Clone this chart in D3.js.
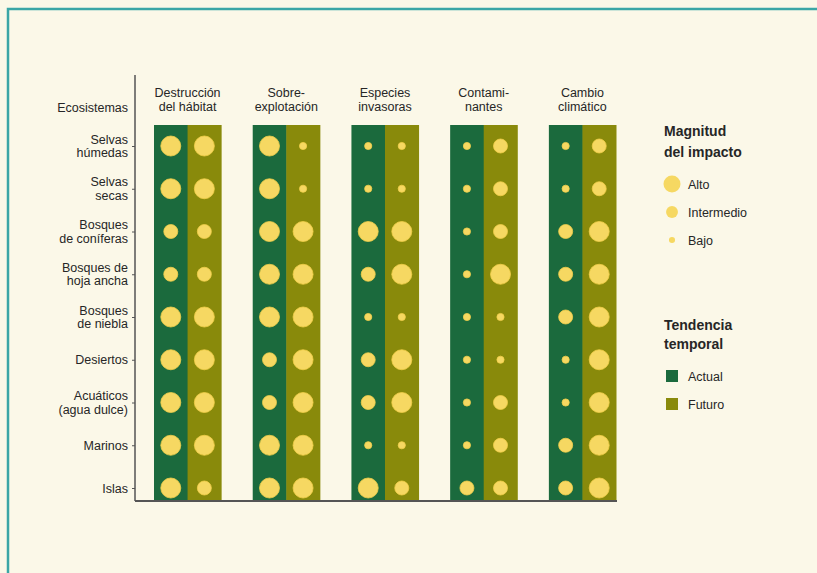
<!DOCTYPE html>
<html><head><meta charset="utf-8">
<script src="https://cdn.jsdelivr.net/npm/d3@7/dist/d3.min.js"></script>
<style>
html,body{margin:0;padding:0;background:#fbf8e8;}
svg{display:block;}
text{font-family:"Liberation Sans",Arial,sans-serif;fill:#262626;}
</style></head>
<body>
<script>
const ecosystems = ["Selvas húmedas","Selvas secas","Bosques de coníferas","Bosques de hoja ancha","Bosques de niebla","Desiertos","Acuáticos (agua dulce)","Marinos","Islas"];
const ecosystemLabels = [["Selvas","húmedas"],["Selvas","secas"],["Bosques","de coníferas"],["Bosques de","hoja ancha"],["Bosques","de niebla"],["Desiertos"],["Acuáticos","(agua dulce)"],["Marinos"],["Islas"]];
const impacts = ["Destrucción del hábitat","Sobre-explotación","Especies invasoras","Contaminantes","Cambio climático"];
const impactLabels = [["Destrucción","del hábitat"],["Sobre-","explotación"],["Especies","invasoras"],["Contami-","nantes"],["Cambio","climático"]];
const trends = ["Actual","Futuro"];
const levels = ["Bajo","Intermedio","Alto"];
const legendLevels = ["Alto","Intermedio","Bajo"];
// values: 3 = Alto, 2 = Intermedio, 1 = Bajo ; rows = ecosystems
const destruccionActual = [3,3,2,2,3,3,3,3,3];
const destruccionFuturo = [3,3,2,2,3,3,3,3,2];
const sobreActual       = [3,3,3,3,3,2,2,3,3];
const sobreFuturo       = [1,1,3,3,3,3,3,3,3];
const especiesActual    = [1,1,3,2,1,2,2,1,3];
const especiesFuturo    = [1,1,3,3,1,3,3,1,2];
const contamActual      = [1,1,1,1,1,1,1,1,2];
const contamFuturo      = [2,2,2,3,1,1,2,2,2];
const cambioActual      = [1,1,2,2,2,1,1,2,2];
const cambioFuturo      = [2,2,3,3,3,3,3,3,3];

const series = [
  [destruccionActual, destruccionFuturo],
  [sobreActual, sobreFuturo],
  [especiesActual, especiesFuturo],
  [contamActual, contamFuturo],
  [cambioActual, cambioFuturo]
];

const W = 817, H = 573;
const svg = d3.select("body").append("svg").attr("width", W).attr("height", H);

svg.append("rect").attr("x",0).attr("y",0).attr("width",W).attr("height",H).attr("fill","#fbf8e8");
// frame
svg.append("path").attr("d",`M8,${H} L8,9 L${W},9`).attr("fill","none").attr("stroke","#3ba6a6").attr("stroke-width",2.5);

const x = d3.scaleBand().domain(impacts).range([154, 616]).paddingInner(0.32).paddingOuter(0);
const xi = d3.scaleBand().domain(trends).range([0, x.bandwidth()]);
const y = d3.scalePoint().domain(ecosystems).range([146, 488]);
const r = d3.scaleOrdinal().domain(levels).range([3.6, 7, 10]);
const color = d3.scaleOrdinal().domain(trends).range(["#1b6a3d","#898a0b"]);
const dotColor = "#f6d862";

const barTop = 125, barBottom = 500, axisX = 135;
const fs = 12.5, lh = 13.5;

// bars
impacts.forEach((imp, i) => {
  const g = svg.append("g").attr("transform", `translate(${x(imp)},0)`);
  trends.forEach((t, j) => {
    g.append("rect").attr("x", xi(t)).attr("y", barTop).attr("width", xi.bandwidth()+0.5)
      .attr("height", barBottom - barTop).attr("fill", color(t));
    g.selectAll(null).data(ecosystems).enter().append("circle")
      .attr("cx", xi(t) + xi.bandwidth()/2)
      .attr("cy", d => y(d))
      .attr("r", (d, k) => r(levels[series[i][j][k]-1]))
      .attr("fill", dotColor)
      .attr("stroke", "#f3cf4a").attr("stroke-width", 0.8);
  });
  const t = svg.append("text").attr("text-anchor","middle").attr("font-size",fs);
  impactLabels[i].forEach((line, k) => {
    t.append("tspan").attr("x", x(imp) + x.bandwidth()/2).attr("y", 97 + k*lh).text(line);
  });
});

// left axis
const axis = d3.axisLeft(y).tickSize(3).tickFormat("");
const ag = svg.append("g").attr("transform", `translate(${axisX},0)`).call(axis);
ag.select(".domain").remove();
ag.selectAll("line").attr("stroke","#555");
svg.append("line").attr("x1",axisX).attr("x2",axisX).attr("y1",75).attr("y2",barBottom+1)
  .attr("stroke","#555").attr("stroke-width",1.5);
svg.append("line").attr("x1",axisX).attr("x2",617).attr("y1",barBottom+1).attr("y2",barBottom+1)
  .attr("stroke","#555").attr("stroke-width",2);

// row labels
ecosystems.forEach((e, k) => {
  const lines = ecosystemLabels[k];
  const t = svg.append("text").attr("text-anchor","end").attr("font-size",fs);
  const y0 = lines.length === 1 ? y(e) + 4.5 : y(e) - 2.5;
  lines.forEach((line, m) => {
    t.append("tspan").attr("x", 128).attr("y", y0 + m*lh).text(line);
  });
});
svg.append("text").attr("text-anchor","end").attr("font-size",fs).attr("x",128).attr("y",112).text("Ecosistemas");

// legend
const lx = 664;
const lt1 = svg.append("text").attr("font-size",14).attr("font-weight","bold");
lt1.append("tspan").attr("x",lx).attr("y",136).text("Magnitud");
lt1.append("tspan").attr("x",lx).attr("y",157).text("del impacto");
const lg = svg.append("g");
lg.selectAll(null).data(legendLevels).enter().append("circle")
  .attr("cx", 672).attr("cy", (d,i) => 184 + i*28).attr("r", d => r(d)*0.85)
  .attr("fill", dotColor);
lg.selectAll(null).data(legendLevels).enter().append("text")
  .attr("x", 688).attr("y", (d,i) => 188.5 + i*28).attr("font-size",fs).text(d => d);

const lt2 = svg.append("text").attr("font-size",14).attr("font-weight","bold");
lt2.append("tspan").attr("x",lx).attr("y",330).text("Tendencia");
lt2.append("tspan").attr("x",lx).attr("y",349).text("temporal");
lg.selectAll(null).data(trends).enter().append("rect")
  .attr("x", 666).attr("y", (d,i) => 370 + i*28).attr("width",12).attr("height",12)
  .attr("fill", d => color(d));
lg.selectAll(null).data(trends).enter().append("text")
  .attr("x", 688).attr("y", (d,i) => 380.5 + i*28).attr("font-size",fs).text(d => d);
</script>
</body></html>
